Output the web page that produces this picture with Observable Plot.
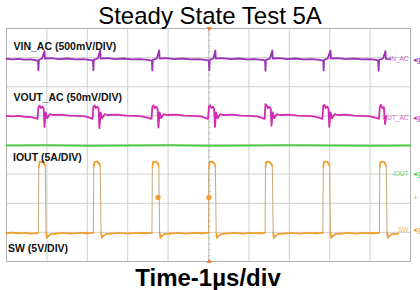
<!DOCTYPE html>
<html><head><meta charset="utf-8">
<script src="https://cdn.jsdelivr.net/npm/d3@7"></script>
<script src="https://cdn.jsdelivr.net/npm/@observablehq/plot@0.6"></script>
<style>
body{margin:0;background:#fff;}
</style></head><body><div id="chart"></div>
<script>
// ---- labels / ticks ----
const title = "Steady State Test 5A";
const xLabel = "Time-1µs/div";
const xDivs = [0,1,2,3,4,5,6,7,8,9,10];
const yDivs = [-4,-3,-2,-1,0,1,2,3,4];
const triggerTime = [5.02];
const channelNames = ["VIN_AC (500mV/DIV)","VOUT_AC (50mV/DIV)","IOUT (5A/DIV)","SW (5V/DIV)"];
const channelTags = ["IN_AC","OUT_AC","IOUT","SW"];
const channelOffsets = [2.94, 0.92, -1.0, -2.92];
const triggerLevel = [-1.80];
const cursorDots = [[3.75,-1.80],[5.01,-1.80]];

// ---- traces (time in div, level in div) ----
const vinTrace = [
[0.00,2.96],[0.15,2.94],[0.30,2.96],[0.45,2.93],[0.60,2.94],[0.72,2.91],[0.78,2.90],[0.79,2.57],[0.80,2.92],[0.88,2.97],[0.94,3.22],[0.95,2.97],
[1.10,2.98],[1.30,2.95],[1.50,2.97],[1.70,2.94],[1.90,2.95],[2.05,2.92],[2.14,2.90],[2.15,2.57],[2.16,2.92],[2.26,2.97],[2.32,3.24],[2.33,2.97],
[2.50,2.98],[2.70,2.95],[2.90,2.97],[3.10,2.94],[3.30,2.95],[3.50,2.92],[3.60,2.90],[3.61,2.56],[3.62,2.92],[3.72,2.97],[3.78,3.25],[3.79,2.97],
[3.95,2.98],[4.15,2.95],[4.35,2.97],[4.55,2.94],[4.75,2.95],[4.92,2.92],[5.01,2.90],[5.02,2.57],[5.03,2.92],[5.12,2.97],[5.17,3.24],[5.18,2.97],
[5.35,2.98],[5.55,2.95],[5.75,2.97],[5.95,2.94],[6.15,2.95],[6.32,2.92],[6.40,2.90],[6.41,2.55],[6.42,2.92],[6.52,2.97],[6.58,3.24],[6.59,2.97],
[6.75,2.98],[6.95,2.95],[7.15,2.97],[7.35,2.94],[7.55,2.95],[7.75,2.92],[7.84,2.90],[7.85,2.56],[7.86,2.92],[7.95,2.97],[8.02,3.24],[8.03,2.97],
[8.20,2.98],[8.40,2.95],[8.60,2.97],[8.80,2.94],[9.00,2.95],[9.14,2.92],[9.20,2.90],[9.21,2.55],[9.22,2.92],[9.32,2.97],[9.38,3.22],[9.39,2.96],[9.50,2.95]
];
const voutTrace = [
[0.00,1.00],[0.15,0.98],[0.30,1.00],[0.45,0.97],[0.60,0.96],[0.69,0.93],[0.77,0.90],
[0.79,1.30],[0.82,1.36],[0.85,1.27],[0.89,1.32],[0.92,1.24],[0.94,0.62],[0.97,1.12],[1.01,0.92],[1.07,1.06],[1.15,1.03],
[1.35,1.04],[1.55,1.01],[1.75,1.00],[1.95,0.98],[2.05,0.94],[2.13,0.90],
[2.15,1.31],[2.18,1.36],[2.21,1.27],[2.25,1.32],[2.28,1.24],[2.30,0.58],[2.33,1.12],[2.37,0.92],[2.43,1.06],[2.51,1.03],
[2.75,1.04],[2.95,1.01],[3.15,1.00],[3.35,0.98],[3.50,0.93],[3.59,0.90],
[3.61,1.31],[3.64,1.36],[3.67,1.27],[3.71,1.32],[3.74,1.24],[3.76,0.60],[3.79,1.12],[3.83,0.92],[3.89,1.06],[3.97,1.03],
[4.20,1.04],[4.40,1.01],[4.60,1.00],[4.80,0.98],[4.92,0.93],[4.99,0.90],
[5.01,1.31],[5.04,1.36],[5.07,1.27],[5.11,1.32],[5.14,1.24],[5.16,0.62],[5.19,1.12],[5.23,0.92],[5.29,1.06],[5.37,1.03],
[5.60,1.04],[5.80,1.01],[6.00,1.00],[6.20,0.98],[6.32,0.93],[6.39,0.90],
[6.41,1.40],[6.44,1.36],[6.47,1.27],[6.51,1.32],[6.54,1.24],[6.56,0.66],[6.59,1.12],[6.63,0.92],[6.69,1.06],[6.77,1.03],
[7.00,1.04],[7.20,1.01],[7.40,1.00],[7.60,0.98],[7.75,0.93],[7.82,0.90],
[7.84,1.34],[7.87,1.38],[7.90,1.27],[7.94,1.32],[7.97,1.24],[7.99,0.62],[8.02,1.12],[8.06,0.92],[8.12,1.06],[8.20,1.03],
[8.40,1.04],[8.60,1.01],[8.80,1.00],[9.00,0.98],[9.15,0.93],[9.22,0.90],
[9.24,1.31],[9.27,1.38],[9.30,1.27],[9.34,1.30],[9.37,0.72],[9.40,1.00]
];
const ioutTrace = [[0,-0.02],[1,-0.01],[2,-0.03],[3,-0.02],[4,-0.01],[5,-0.03],[6,-0.02],[7,-0.01],[8,-0.02],[9,-0.03],[10,-0.02]];
const swTrace = [
[0.00,-3.03],[0.15,-3.01],[0.30,-3.03],[0.45,-3.02],[0.60,-3.04],[0.79,-3.02],
[0.80,-0.75],[0.82,-0.58],[0.88,-0.57],[0.92,-0.62],[0.96,-0.72],[0.98,-3.00],[1.00,-3.18],[1.04,-3.12],[1.10,-3.06],[1.22,-3.04],
[1.40,-3.02],[1.60,-3.04],[1.80,-3.02],[2.00,-3.03],[2.15,-3.02],
[2.16,-0.75],[2.18,-0.58],[2.25,-0.57],[2.29,-0.62],[2.32,-0.72],[2.34,-3.00],[2.36,-3.18],[2.40,-3.12],[2.46,-3.06],[2.58,-3.04],
[2.80,-3.02],[3.00,-3.04],[3.20,-3.02],[3.40,-3.03],[3.60,-3.02],
[3.61,-0.75],[3.63,-0.58],[3.70,-0.57],[3.74,-0.62],[3.77,-0.72],[3.79,-3.00],[3.81,-3.18],[3.85,-3.12],[3.91,-3.06],[4.03,-3.04],
[4.25,-3.02],[4.45,-3.04],[4.65,-3.02],[4.85,-3.03],[5.00,-3.02],
[5.01,-0.75],[5.03,-0.58],[5.09,-0.57],[5.13,-0.62],[5.17,-0.72],[5.19,-3.00],[5.21,-3.18],[5.25,-3.12],[5.31,-3.06],[5.43,-3.04],
[5.65,-3.02],[5.85,-3.04],[6.05,-3.02],[6.25,-3.03],[6.40,-3.02],
[6.41,-0.75],[6.43,-0.58],[6.50,-0.57],[6.54,-0.62],[6.58,-0.72],[6.60,-3.00],[6.62,-3.18],[6.66,-3.12],[6.72,-3.06],[6.84,-3.04],
[7.05,-3.02],[7.25,-3.04],[7.45,-3.02],[7.65,-3.03],[7.83,-3.02],
[7.84,-0.75],[7.86,-0.58],[7.93,-0.57],[7.97,-0.62],[8.00,-0.72],[8.02,-3.00],[8.04,-3.18],[8.08,-3.12],[8.14,-3.06],[8.26,-3.04],
[8.45,-3.02],[8.65,-3.04],[8.85,-3.02],[9.05,-3.03],[9.23,-3.02],
[9.24,-0.75],[9.26,-0.58],[9.33,-0.57],[9.37,-0.62],[9.40,-0.72],[9.42,-3.00],[9.44,-3.18],[9.48,-3.12],[9.54,-3.06],[9.70,-3.04]
];

// ---- styles ----
const C = {vin:"#9a30b4", vout:"#d22ab0", iout:"#4ccc44", sw:"#f0a030", swEdge:"#c9a878",
           grid:"#cdd1cd", frame:"#b0b0b0"};
const tagColors = ["#b070c8","#d470c4","#66d066","#f0b868"];
const markColors = [C.vin, C.vout, C.iout, C.sw];
const font = "'Liberation Sans', Arial, Helvetica, sans-serif";

const swSegs = d3.pairs(swTrace);
const seg = {x1: s => s[0][0], y1: s => s[0][1], x2: s => s[1][0], y2: s => s[1][1]};
const labelDy = [21.5, 72, 132.5, 223];
const labelDx = [7, 7, 6.5, 1.5];

const chart = Plot.plot({
  width: 420, height: 290,
  marginLeft: 6, marginRight: 10, marginTop: 28, marginBottom: 29,
  x: {domain: [0, 10], axis: null},
  y: {domain: [-4, 4], axis: null},
  style: {fontFamily: font, background: "white", overflow: "hidden"},
  marks: [
    Plot.ruleX(xDivs, {stroke: C.grid, strokeWidth: 1}),
    Plot.ruleY(yDivs, {stroke: C.grid, strokeWidth: 1}),
    Plot.ruleX(triggerTime, {stroke: "#d0d0d0", strokeWidth: 0.6}),
    Plot.ruleX(triggerTime, {stroke: "#c0c0c0", strokeWidth: 2.5, strokeDasharray: "1,4.825"}),
    Plot.frame({stroke: C.frame}),
    Plot.dot(triggerTime, {x: d => d, frameAnchor: "top", symbol: "triangle", r: 2, fill: "#f08040", rotate: 180}),
    Plot.dot(triggerTime, {x: d => d, frameAnchor: "bottom", symbol: "triangle", r: 2, fill: "#f08040"}),
    Plot.line(ioutTrace, {x: d => d[0], y: d => d[1], stroke: C.iout, strokeWidth: 2}),
    Plot.line(vinTrace, {x: d => d[0], y: d => d[1], stroke: C.vin, strokeWidth: 1.8}),
    Plot.line(voutTrace, {x: d => d[0], y: d => d[1], stroke: C.vout, strokeWidth: 1.8}),
    Plot.link(swSegs, {...seg, filter: s => Math.abs(s[1][1] - s[0][1]) > 1, stroke: C.swEdge, strokeWidth: 1}),
    Plot.link(swSegs, {...seg, filter: s => Math.abs(s[1][1] - s[0][1]) <= 1, stroke: C.sw, strokeWidth: 1.8, strokeLinecap: "round"}),
    Plot.dot(cursorDots, {x: d => d[0], y: d => d[1], r: 2.6, fill: C.sw}),
    // channel names (top-left of each band)
    ...channelNames.map((name, i) => Plot.text([name], {
      text: d => d, frameAnchor: "top-left", textAnchor: "start", lineAnchor: "bottom",
      dx: labelDx[i], dy: labelDy[i], fontSize: 10.5, fontWeight: "bold", fill: "#111"})),
    // right-edge channel tags
    Plot.text(channelTags, {y: (d, i) => channelOffsets[i], frameAnchor: "right", textAnchor: "end",
      lineAnchor: "middle", dx: -2, fontSize: 6.5, fill: (d, i) => tagColors[i]}),
    Plot.text(channelTags, {y: (d, i) => channelOffsets[i], frameAnchor: "right", textAnchor: "start",
      lineAnchor: "middle", dx: 2, fontSize: 7, text: () => "◂g", fill: (d, i) => markColors[i]}),
    Plot.text(triggerLevel, {y: d => d, frameAnchor: "right", textAnchor: "start", lineAnchor: "middle",
      dx: 3, fontSize: 7, text: () => "+", fill: C.sw}),
    Plot.text([title], {text: d => d, frameAnchor: "top", lineAnchor: "bottom", dy: -5, dx: 1.5,
      fontSize: 24, fill: "#000"}),
    Plot.text([xLabel], {text: d => d, frameAnchor: "bottom", lineAnchor: "bottom", dy: 24, dx: -0.5,
      fontSize: 24, fontWeight: "bold", fill: "#000"})
  ]
});
document.getElementById("chart").appendChild(chart);
</script></body></html>
